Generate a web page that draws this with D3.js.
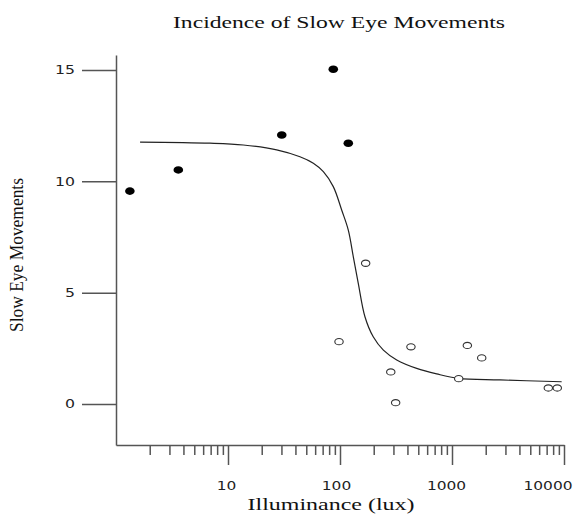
<!DOCTYPE html>
<html>
<head>
<meta charset="utf-8">
<script src="https://cdn.jsdelivr.net/npm/d3@7"></script>
<style>
  body { margin: 0; background: #fff; }
</style>
</head>
<body>
<div id="canvas"></div>
<script>
// incidence of slow eye movements vs illuminance

var width = 576;
var height = 519;

// dark (filled) observations: lux, count
var darkLux = [1.33, 3.6, 30.2, 87.1, 118.6];
var darkSEM = [9.56, 10.51, 12.08, 15.03, 11.71];

// light (open) observations
var lightLux = [98, 169.5, 284, 314, 430, 1148, 1371, 1842, 7244, 8710];
var lightSEM = [2.80, 6.32, 1.44, 0.06, 2.57, 1.14, 2.63, 2.07, 0.72, 0.72];

// fitted curve
var fitLux = [1.64, 6.9, 13.7, 27.2, 43.9, 57.8, 71.0, 87.1, 103.5, 118.6, 131.5,
              145.6, 167, 198, 244, 321, 484, 730, 1138, 2683, 9530];
var fitSEM = [11.76, 11.71, 11.63, 11.41, 11.10, 10.81, 10.43, 9.76, 8.71, 7.81, 6.61,
              5.42, 3.92, 3.02, 2.42, 1.98, 1.60, 1.35, 1.15, 1.08, 1.00];

var yTicks = [0, 5, 10, 15];
var xMajor = [10, 100, 1000, 10000];
var xLabels = ["10", "100", "1000", "10000"];

var svg = d3.select("#canvas").append("svg")
	.attr("width", width)
	.attr("height", height)
	.style("background", "#fff");

var x = d3.scaleLog().domain([1, 10000]).range([116, 564]);
var y = d3.scaleLinear().domain([-1.84, 15.67]).range([445, 55]);

var axisCol = "#555";

// minor ticks 2..9 in every decade
var minor = [];
[1, 10, 100, 1000].forEach(function(dec){
	for (var k = 2; k <= 9; k++) minor.push(dec * k);
});

var gMinor = svg.append("g")
	.attr("transform", "translate(0,445)")
	.call(d3.axisBottom(x).tickValues(minor).tickFormat("").tickSize(10).tickSizeOuter(0));
gMinor.select(".domain").remove();

var gx = svg.append("g")
	.attr("transform", "translate(0,445)")
	.call(d3.axisBottom(x).tickValues(xMajor).tickFormat(function(d, i){ return xLabels[i]; })
		.tickSize(20).tickSizeOuter(0));

var labW = function(i){ return xLabels[i].length * 9.8; };
gx.selectAll("text")
	.attr("y", 45)
	.attr("dy", null)
	.style("font-family", "DejaVu Sans")
	.style("font-size", "12px")
	.attr("fill", "#222")
	.attr("textLength", function(d, i){ return labW(i); })
	.attr("lengthAdjust", "spacingAndGlyphs")
	// keep the last label inside the page, like the original
	.attr("x", function(d, i){
		var over = x(d) + labW(i) / 2 - (width - 4);
		return over > 0 ? -over : -(i + 1) * 2;
	});

var gy = svg.append("g")
	.attr("transform", "translate(116,0)")
	.call(d3.axisLeft(y).tickValues(yTicks).tickSize(34).tickSizeOuter(0).tickPadding(7));

gy.selectAll("text")
	.style("font-family", "DejaVu Sans")
	.style("font-size", "12px")
	.attr("fill", "#222")
	.attr("textLength", function(d){ return String(d).length * 10; })
	.attr("lengthAdjust", "spacingAndGlyphs");

[gMinor, gx, gy].forEach(function(g){
	g.selectAll("line").attr("stroke", axisCol).attr("stroke-width", 1.5);
	g.selectAll(".domain").attr("stroke", axisCol).attr("stroke-width", 1.5);
});

// fitted curve
var fit = fitLux.map(function(d, i){ return [d, fitSEM[i]]; });
svg.append("path")
	.datum(fit)
	.attr("fill", "none")
	.attr("stroke", "#222")
	.attr("stroke-width", 1.2)
	.attr("d", d3.line()
		.x(function(d){ return x(d[0]); })
		.y(function(d){ return y(d[1]); })
		.curve(d3.curveCatmullRom.alpha(0.5)));

svg.selectAll(".dark")
	.data(darkLux)
	.enter()
	.append("ellipse")
	.attr("class", "dark")
	.attr("cx", function(d){ return x(d); })
	.attr("cy", function(d, i){ return y(darkSEM[i]); })
	.attr("rx", 4.8)
	.attr("ry", 3.8)
	.attr("fill", "#000");

svg.selectAll(".light")
	.data(lightLux)
	.enter()
	.append("ellipse")
	.attr("class", "light")
	.attr("cx", function(d){ return x(d); })
	.attr("cy", function(d, i){ return y(lightSEM[i]); })
	.attr("rx", 4.2)
	.attr("ry", 3.1)
	.attr("fill", "#fff")
	.attr("stroke", "#333")
	.attr("stroke-width", 1.1);

// titles
svg.append("text")
	.attr("x", 339)
	.attr("y", 28)
	.attr("text-anchor", "middle")
	.style("font-family", "Liberation Serif")
	.style("font-size", "17px")
	.attr("fill", "#111")
	.attr("textLength", 332)
	.attr("lengthAdjust", "spacingAndGlyphs")
	.text("Incidence of Slow Eye Movements");

svg.append("text")
	.attr("x", 331)
	.attr("y", 510)
	.attr("text-anchor", "middle")
	.style("font-family", "Liberation Serif")
	.style("font-size", "17px")
	.attr("fill", "#111")
	.attr("textLength", 167)
	.attr("lengthAdjust", "spacingAndGlyphs")
	.text("Illuminance (lux)");

svg.append("text")
	.attr("transform", "translate(23,255) rotate(-90)")
	.attr("text-anchor", "middle")
	.style("font-family", "Liberation Serif")
	.style("font-size", "19px")
	.attr("fill", "#111")
	.attr("textLength", 154)
	.attr("lengthAdjust", "spacingAndGlyphs")
	.text("Slow Eye Movements");
</script>
</body>
</html>
